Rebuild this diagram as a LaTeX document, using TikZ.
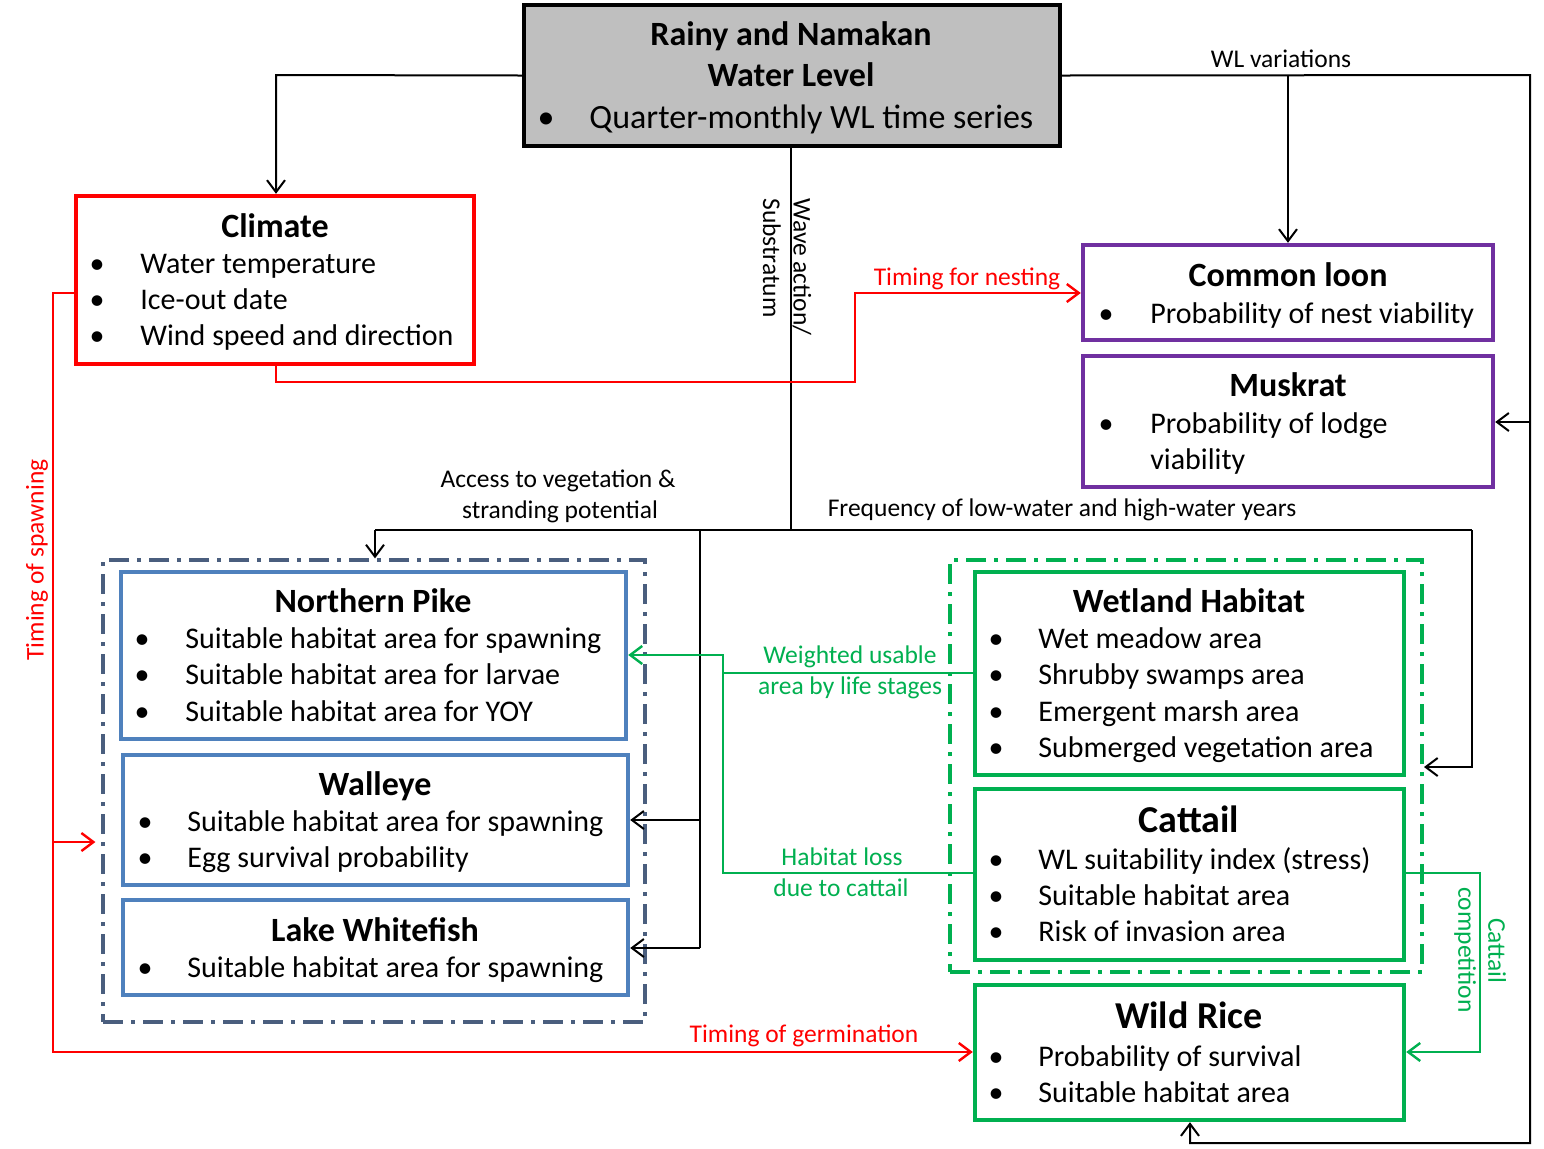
\documentclass[tikz,border=0pt]{standalone}
\usepackage{fontspec}
\setmainfont{Carlito}
\usetikzlibrary{arrows.meta,fit}
\definecolor{wlred}{HTML}{FF0000}
\definecolor{wlpurple}{HTML}{7030A0}
\definecolor{wlblue}{HTML}{4F81BD}
\definecolor{wlslate}{HTML}{4A5E7E}
\definecolor{wlgreen}{HTML}{00B050}
\definecolor{wlgray}{HTML}{BFBFBF}
\begin{document}
\begin{tikzpicture}[x=0.5pt,y=-0.5pt,
  boxf/.style={draw,line width=2.2pt,inner sep=0pt},
  grpf/.style={draw,line width=1.6pt,inner sep=0pt,dash pattern=on 10pt off 4pt on 2pt off 4pt},
  ttl/.style={font=\fontsize{17}{20}\selectfont\bfseries,anchor=base,inner sep=0pt},
  bigttl/.style={font=\fontsize{19}{22}\selectfont\bfseries,anchor=base,inner sep=0pt},
  body/.style={font=\fontsize{15}{18}\selectfont,anchor=base west,inner sep=0pt},
  topbody/.style={font=\fontsize{17}{20}\selectfont,anchor=base west,inner sep=0pt},
  bul/.style={font=\fontsize{15}{18}\selectfont,anchor=base,inner sep=0pt},
  lbl/.style={font=\fontsize{12.75}{15}\selectfont,anchor=base,inner sep=0pt},
  conn/.style={line width=1pt},
  redc/.style={line width=1.2pt,draw=wlred},
  grc/.style={line width=1.2pt,draw=wlgreen},
  arr/.style={-{Straight Barb[length=6pt,width=9pt]}}
]
\useasboundingbox (0,0) rectangle (1544,1148);
\fill[white] (0,0) rectangle (1544,1148);

% ---------- boxes ----------
\node[boxf,fill=wlgray,fit={(524,5)(1060,146)}] (wl) {};
\node[boxf,draw=wlred,fit={(76,196)(474,364)}] (climate) {};
\node[boxf,draw=wlpurple,fit={(1083,245)(1493,340)}] (loon) {};
\node[boxf,draw=wlpurple,fit={(1083,356)(1493,487)}] (muskrat) {};
\node[grpf,draw=wlslate,fit={(103,560)(645,1022)}] (pikegrp) {};
\node[boxf,draw=wlblue,fit={(121,572)(626,739)}] (pike) {};
\node[boxf,draw=wlblue,fit={(123,755)(628,885)}] (walleye) {};
\node[boxf,draw=wlblue,fit={(123,900)(628,995)}] (whitefish) {};
\node[grpf,draw=wlgreen,line width=2pt,fit={(950,560)(1422,972)}] (wetgrp) {};
\node[boxf,draw=wlgreen,fit={(975,572)(1404,775)}] (wetland) {};
\node[boxf,draw=wlgreen,fit={(975,789)(1404,960)}] (cattail) {};
\node[boxf,draw=wlgreen,fit={(975,985)(1404,1120)}] (wildrice) {};

% ---------- box texts ----------
\node[ttl] (wlt1) at (791,45) {Rainy and Namakan};
\node[ttl] (wlt2) at (791,86) {Water Level};
\node[bul,font=\fontsize{17}{20}\selectfont] (wlb1) at (546,128) {•};
\node[topbody] (wlx1) at (589,128) {Quarter-monthly WL time series};

\node[ttl] (clt) at (275,237) {Climate};
\node[bul] (clb1) at (97,273) {•};
\node[body] (clx1) at (140,273) {Water temperature};
\node[bul] (clb2) at (97,309) {•};
\node[body] (clx2) at (140,309) {Ice-out date};
\node[bul] (clb3) at (97,345) {•};
\node[body] (clx3) at (140,345) {Wind speed and direction};

\node[ttl] (lnt) at (1288,286) {Common loon};
\node[bul] (lnb1) at (1106,323) {•};
\node[body] (lnx1) at (1150,323) {Probability of nest viability};

\node[ttl] (mkt) at (1288,396) {Muskrat};
\node[bul] (mkb1) at (1106,433) {•};
\node[body] (mkx1) at (1150,433) {Probability of lodge};
\node[body] (mkx2) at (1150,469) {viability};

\node[ttl] (pkt) at (373,612) {Northern Pike};
\node[bul] (pkb1) at (142,648) {•};
\node[body] (pkx1) at (185,648) {Suitable habitat area for spawning};
\node[bul] (pkb2) at (142,684) {•};
\node[body] (pkx2) at (185,684) {Suitable habitat area for larvae};
\node[bul] (pkb3) at (142,721) {•};
\node[body] (pkx3) at (185,721) {Suitable habitat area for YOY};

\node[ttl] (wet) at (375,795) {Walleye};
\node[bul] (web1) at (145,831) {•};
\node[body] (wex1) at (187,831) {Suitable habitat area for spawning};
\node[bul] (web2) at (145,867) {•};
\node[body] (wex2) at (187,867) {Egg survival probability};

\node[ttl] (wft) at (375,941) {Lake Whitefish};
\node[bul] (wfb1) at (145,977) {•};
\node[body] (wfx1) at (187,977) {Suitable habitat area for spawning};

\node[ttl] (wht) at (1189,612) {Wetland Habitat};
\node[bul] (whb1) at (996,648) {•};
\node[body] (whx1) at (1038,648) {Wet meadow area};
\node[bul] (whb2) at (996,684) {•};
\node[body] (whx2) at (1038,684) {Shrubby swamps area};
\node[bul] (whb3) at (996,721) {•};
\node[body] (whx3) at (1038,721) {Emergent marsh area};
\node[bul] (whb4) at (996,757) {•};
\node[body] (whx4) at (1038,757) {Submerged vegetation area};

\node[bigttl] (ctt) at (1189,832) {Cattail};
\node[bul] (ctb1) at (996,869) {•};
\node[body] (ctx1) at (1038,869) {WL suitability index (stress)};
\node[bul] (ctb2) at (996,905) {•};
\node[body] (ctx2) at (1038,905) {Suitable habitat area};
\node[bul] (ctb3) at (996,941) {•};
\node[body] (ctx3) at (1038,941) {Risk of invasion area};

\node[bigttl] (wrt) at (1189,1028) {Wild Rice};
\node[bul] (wrb1) at (996,1066) {•};
\node[body] (wrx1) at (1038,1066) {Probability of survival};
\node[bul] (wrb2) at (996,1102) {•};
\node[body] (wrx2) at (1038,1102) {Suitable habitat area};

% ---------- black connectors ----------
\coordinate (tl) at (276,75);
\draw[conn,arr] (wl.west) -- (tl) -- (climate.north -| tl);
\coordinate (tr) at (1530,75);
\coordinate (br) at (1530,1143);
\coordinate (bb) at (1190,1143);
\draw[conn,arr] (wl.east) -- (tr) -- (br) -- (bb) -- (wildrice.south -| bb);
\coordinate (lp) at (1288,75);
\draw[conn,arr] (lp) -- (loon.north -| lp);
\coordinate (mk) at (1530,422);
\draw[conn,arr] (mk) -- (muskrat.east |- mk);
\coordinate (dj) at (791,530);
\draw[conn] (wl.south -| dj) -- (dj);
\coordinate (hl) at (375,530);
\coordinate (hr) at (1472,530);
\draw[conn] (hl) -- (hr);
\draw[conn,arr] (hl) -- (pikegrp.north -| hl);
\coordinate (hrd) at (1472,767);
\draw[conn,arr] (hr) -- (hrd) -- (wetgrp.east |- hrd);
\coordinate (vt) at (700,530);
\coordinate (vw) at (700,820);
\coordinate (vf) at (700,948);
\draw[conn] (vt) -- (vf);
\draw[conn,arr] (vw) -- (walleye.east |- vw);
\draw[conn,arr] (vf) -- (whitefish.east |- vf);

% ---------- red connectors ----------
\coordinate (r1) at (276,382);
\coordinate (r2) at (855,382);
\coordinate (r3) at (855,293);
\draw[redc,arr] (climate.south -| r1) -- (r1) -- (r2) -- (r3) -- (loon.west |- r3);
\coordinate (s1) at (53,293);
\coordinate (s2) at (53,1052);
\coordinate (s3) at (53,842);
\draw[redc,arr] (climate.west |- s1) -- (s1) -- (s2) -- (wildrice.west |- s2);
\draw[redc,arr,shorten >=3pt] (s3) -- (pikegrp.west |- s3);

% ---------- green connectors ----------
\coordinate (g1) at (723,873);
\coordinate (g2) at (723,655);
\coordinate (g3) at (723,673);
\draw[grc,arr] (cattail.west |- g1) -- (g1) -- (g2) -- (pike.east |- g2);
\draw[grc] (wetland.west |- g3) -- (g3);
\coordinate (c1) at (1480,873);
\coordinate (c2) at (1480,1052);
\draw[grc,arr] (cattail.east |- c1) -- (c1) -- (c2) -- (wildrice.east |- c2);

% ---------- connector labels ----------
\node[lbl] (lwlv) at (1281,67) {WL variations};
\node[lbl,rotate=-90,anchor=west] (lwave) at (802,198) {Wave action/};
\node[lbl,rotate=-90,anchor=west] (lsub) at (772,198) {Substratum};
\node[lbl,text=wlred] (lnest) at (967,285) {Timing for nesting};
\node[lbl] (lacc1) at (558,487) {Access to vegetation \&};
\node[lbl] (lacc2) at (560,518) {stranding potential};
\node[lbl] (lfreq) at (1062,516) {Frequency of low-water and high-water years};
\node[lbl,rotate=90,anchor=center,text=wlred] (lspawn) at (37,560) {Timing of spawning};
\node[lbl,text=wlgreen] (lwua1) at (850,663) {Weighted usable};
\node[lbl,text=wlgreen] (lwua2) at (850,694) {area by life stages};
\node[lbl,text=wlgreen] (lhab1) at (842,865) {Habitat loss};
\node[lbl,text=wlgreen] (lhab2) at (841,896) {due to cattail};
\node[lbl,rotate=-90,anchor=center,text=wlgreen] (lcat1) at (1497,951) {Cattail};
\node[lbl,rotate=-90,anchor=center,text=wlgreen] (lcat2) at (1465,950) {competition};
\node[lbl,text=wlred] (lgerm) at (804,1042) {Timing of germination};
\end{tikzpicture}
\end{document}
